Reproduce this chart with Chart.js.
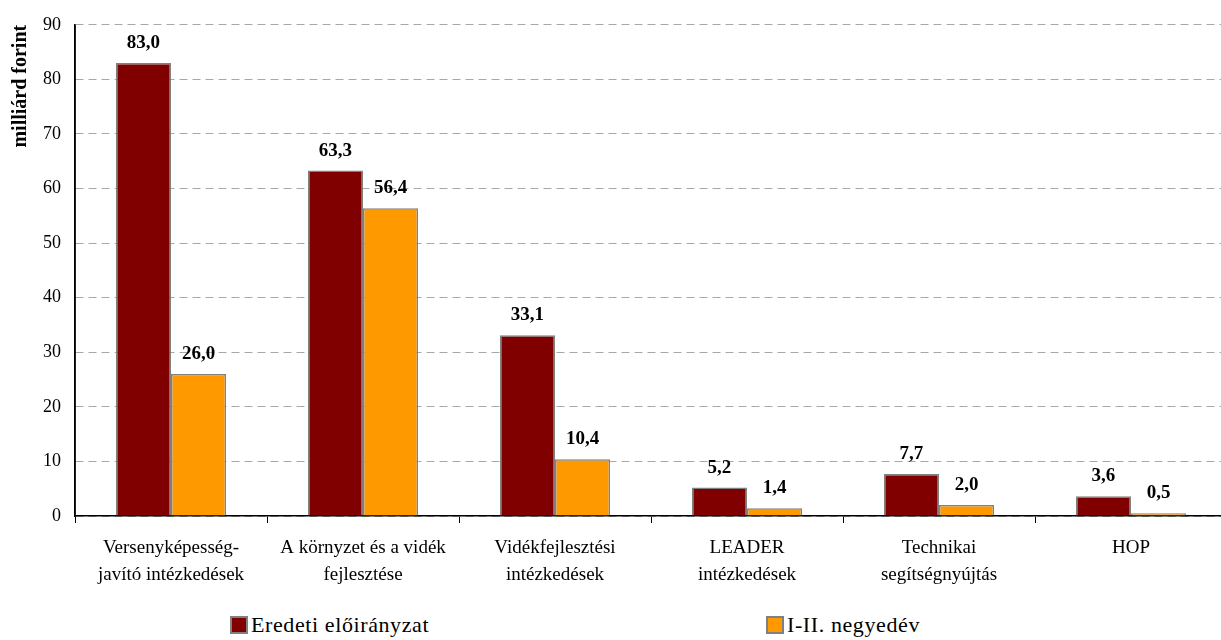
<!DOCTYPE html>
<html>
<head>
<meta charset="utf-8">
<script src="https://cdn.jsdelivr.net/npm/chart.js@4.4.1/dist/chart.umd.min.js"></script>
<style>
    html, body { margin: 0; padding: 0; background: #fff; overflow: hidden; }
    #wrap { position: relative; width: 1240px; height: 640px; }
    #chart { position: absolute; left: 0; top: 0; }
    .legend-item {
        position: absolute; top: 612px; display: flex; align-items: center; letter-spacing: 0.6px;
        font-family: 'Liberation Serif', serif; font-size: 22px; color: #000;
    }
    .legend-item span.box {
        display: inline-block; width: 14px; height: 14px; border: 2px solid #808080; margin-right: 3px;
    }
</style>
</head>
<body>
<div id="wrap">
    <canvas id="chart" width="1240" height="600" style="width:1240px;height:600px"></canvas>
</div>
<script>
// Categories (multi-line labels)
const categories = [
    ["Versenyképesség-", "javító intézkedések"],
    ["A környzet és a vidék", "fejlesztése"],
    ["Vidékfejlesztési", "intézkedések"],
    ["LEADER", "intézkedések"],
    ["Technikai", "segítségnyújtás"],
    ["HOP"]
];

// Series values (milliárd forint)
const eredeti = [83.0, 63.3, 33.1, 5.2, 7.7, 3.6];
const negyedev = [26.0, 56.4, 10.4, 1.4, 2.0, 0.5];

const seriesLabels = ["Eredeti előirányzat", "I-II. negyedév"];
const seriesColors = ["#800000", "#FF9900"];
const legendX = [230, 766];

const FONT = "'Liberation Serif', serif";
Chart.defaults.font.family = FONT;

// Draws the value labels above each bar
const valueLabels = {
    id: "valueLabels",
    afterDatasetsDraw(chart) {
        const ctx = chart.ctx;
        ctx.save();
        ctx.font = `bold 19px ${FONT}`;
        ctx.fillStyle = "#000";
        ctx.textAlign = "center";
        ctx.textBaseline = "alphabetic";
        chart.data.datasets.forEach((dataset, i) => {
            chart.getDatasetMeta(i).data.forEach((bar, index) => {
                const text = dataset.data[index].toFixed(1).replace(".", ",");
                ctx.fillText(text, bar.x, bar.y - 15);
            });
        });
        ctx.restore();
    }
};

// Solid y axis line on top of the dashed grid
const axisLine = {
    id: "axisLine",
    afterDatasetsDraw(chart) {
        const { ctx, chartArea } = chart;
        ctx.save();
        ctx.setLineDash([]);
        ctx.strokeStyle = "#000";
        ctx.lineWidth = 1.5;
        ctx.beginPath();
        ctx.moveTo(chartArea.left, chartArea.top);
        ctx.lineTo(chartArea.left, chartArea.bottom);
        ctx.stroke();
        ctx.restore();
    }
};

new Chart(document.getElementById("chart"), {
    type: "bar",
    data: {
        labels: categories,
        datasets: [
            { label: seriesLabels[0], data: eredeti, backgroundColor: seriesColors[0] },
            { label: seriesLabels[1], data: negyedev, backgroundColor: seriesColors[1] }
        ].map(d => ({ ...d, borderColor: "#808080", borderWidth: 1.5, borderSkipped: "bottom" }))
    },
    options: {
        responsive: false,
        animation: false,
        layout: { padding: { top: 23, right: 13, left: 0, bottom: 0 } },
        datasets: { bar: { categoryPercentage: 0.573, barPercentage: 1 } },
        plugins: {
            legend: { display: false },
            tooltip: { enabled: false }
        },
        scales: {
            x: {
                afterFit: s => { s.height = 84; },
                grid: {
                    offset: true, drawOnChartArea: false, drawTicks: true,
                    tickLength: 7, color: "#000", lineWidth: 1
                },
                border: { color: "#000", width: 1.5 },
                ticks: {
                    color: "#000", padding: 12, maxRotation: 0, autoSkip: false,
                    font: { family: FONT, size: 19, lineHeight: 1.4 }
                }
            },
            y: {
                min: 0, max: 90,
                afterFit: s => { s.width = 75; },
                grid: { color: "#a8a8a8", lineWidth: 1, drawTicks: false },
                border: { color: "#000", width: 1.5, dash: [8, 5] },
                ticks: {
                    stepSize: 10, color: "#000", padding: 14,
                    font: { family: FONT, size: 18 }
                },
                title: {
                    display: true, text: "milliárd forint", align: "end", color: "#000",
                    padding: { top: 9, bottom: 0 },
                    font: { family: FONT, size: 20, weight: "bold" }
                }
            }
        }
    },
    plugins: [valueLabels, axisLine]
});

// Simple HTML legend below the chart
const wrap = document.getElementById("wrap");
seriesLabels.forEach((label, i) => {
    const item = document.createElement("div");
    item.className = "legend-item";
    item.style.left = legendX[i] + "px";
    item.innerHTML = `<span class="box" style="background:${seriesColors[i]}"></span>${label}`;
    wrap.appendChild(item);
});
</script>
</body>
</html>
